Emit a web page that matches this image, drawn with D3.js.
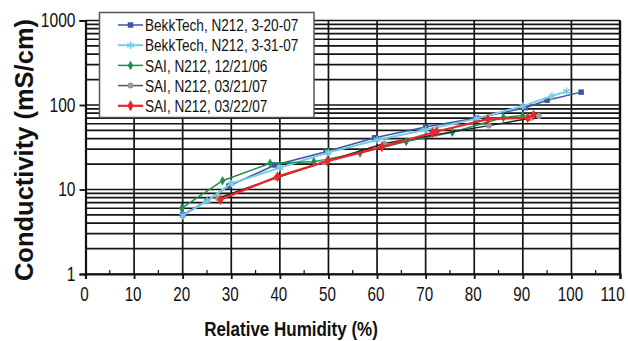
<!DOCTYPE html>
<html>
<head>
<meta charset="utf-8">
<script src="https://cdn.jsdelivr.net/npm/d3@7"></script>
<style>
  body { margin: 0; background: #fff; }
  svg { display: block; }
  .tick-label { font-family: "Liberation Sans", Arial, sans-serif; font-size: 20px; fill: #111; }
  .legend-label { font-family: "Liberation Sans", Arial, sans-serif; font-size: 17px; fill: #111; }
  .axis-title { font-family: "Liberation Sans", Arial, sans-serif; font-weight: bold; fill: #111; }
</style>
</head>
<body>
<svg id="chart" width="628" height="341"></svg>
<script>
// Series: [relative humidity %, conductivity mS/cm]
const bekk0320 = [[20, 5.0], [25, 7.4], [29.5, 11], [39, 19.5], [49.5, 28], [59.5, 41], [70, 55], [80.5, 70], [90.5, 93], [95, 114], [102, 142]];
const bekk0331 = [[20, 4.9], [25, 7.3], [30, 11.8], [40, 18.1], [50, 27.5], [60, 38.5], [70, 51], [80.5, 69], [90, 97], [96, 128], [99, 145]];
const sai1221 = [[19.8, 6.0], [28.2, 12.7], [38, 20.4], [47, 21.3], [56.5, 27], [66, 37], [75.5, 47.5], [86, 71], [90, 75]];
const sai0321 = [[27.3, 7.9], [39.3, 13.8], [49, 21], [61.5, 35], [83, 57], [91.5, 69.5], [93.3, 74]];
const sai0322 = [[27.8, 7.6], [39.5, 14.2], [49.8, 21.7], [61, 32], [71.4, 47], [72.3, 48.5], [82.8, 68], [91, 70.5], [92.2, 76]];

const seriesNames = ["BekkTech, N212, 3-20-07", "BekkTech, N212, 3-31-07", "SAI, N212, 12/21/06", "SAI, N212, 03/21/07", "SAI, N212, 03/22/07"];
const seriesData = [bekk0320, bekk0331, sai1221, sai0321, sai0322];

const xTicks = [0, 10, 20, 30, 40, 50, 60, 70, 80, 90, 100, 110];
const yTickLabels = [1, 10, 100, 1000];

// look of each series, same order as seriesNames
const styles = [
  {line: "#3a56a5", fill: "#3a56a5", width: 1.5, symbol: d3.symbolSquare, size: 30},
  {line: "#78cde3", fill: "#78cde3", width: 2, symbol: d3.symbolAsterisk, size: 40},
  {line: "#1f8f4f", fill: "#1f8f4f", width: 1.5, symbol: d3.symbolDiamond, size: 26},
  {line: "#222222", fill: "#9a9a9a", width: 1.5, symbol: d3.symbolCircle, size: 28},
  {line: "#e8262b", fill: "#e8262b", width: 2.2, symbol: d3.symbolDiamond, size: 34},
];

const plot = {left: 85.5, right: 620, top: 20.5, bottom: 274};

const x = d3.scaleLinear().domain([0, 110]).range([plot.left, plot.right]);
const y = d3.scaleLog().domain([1, 1000]).range([plot.bottom, plot.top]);

const svg = d3.select("#chart");

// the original uses a condensed face; squeeze the text horizontally
// (scale about the origin, so the x position is divided back out)
function narrow(selection, ratio) {
  selection.each(function() {
    const x0 = +this.getAttribute("x") || 0;
    this.setAttribute("x", x0 / ratio);
    this.setAttribute("transform", `scale(${ratio},1)`);
  });
}

// grid
const grid = svg.append("g").attr("stroke", "#141414").attr("stroke-width", 1.7);
grid.selectAll("line.h")
  .data(y.ticks())
  .join("line")
  .attr("class", "h")
  .attr("x1", plot.left).attr("x2", plot.right)
  .attr("y1", d => y(d)).attr("y2", d => y(d));
grid.selectAll("line.v")
  .data(xTicks.slice(1))
  .join("line")
  .attr("class", "v")
  .attr("x1", d => x(d)).attr("x2", d => x(d))
  .attr("y1", plot.top).attr("y2", plot.bottom);

// x axis
const xAxis = d3.axisBottom(x).tickValues(xTicks).tickSize(5).tickPadding(8);
const gx = svg.append("g")
  .attr("transform", `translate(0,${plot.bottom})`)
  .call(xAxis);
gx.select(".domain").attr("stroke", "#111").attr("stroke-width", 2.2);
gx.selectAll(".tick line").attr("stroke", "#111").attr("stroke-width", 1.8);
// labels sit a bit left of their ticks; the last one is pulled in to stay inside
gx.selectAll(".tick text")
  .attr("class", "tick-label").attr("font-family", null).attr("font-size", null)
  .attr("x", d => d === 110 ? -8 : -1.5)
  .call(narrow, 0.76);
// small minor ticks pointing up
svg.append("g").selectAll("line")
  .data(d3.range(5, 110, 10))
  .join("line")
  .attr("x1", d => x(d)).attr("x2", d => x(d))
  .attr("y1", plot.bottom - 4).attr("y2", plot.bottom)
  .attr("stroke", "#111").attr("stroke-width", 1.2);

// y axis
const yAxis = d3.axisLeft(y).tickValues(yTickLabels).tickFormat(d3.format("d")).tickSize(6).tickPadding(4);
const gy = svg.append("g")
  .attr("transform", `translate(${plot.left},0)`)
  .call(yAxis);
gy.select(".domain").attr("stroke", "#111").attr("stroke-width", 2.2);
gy.selectAll(".tick line").attr("stroke", "#111").attr("stroke-width", 1.8);
gy.selectAll(".tick text").attr("class", "tick-label").attr("font-family", null).attr("font-size", null)
  .call(narrow, 0.78);

// right frame line
svg.append("line")
  .attr("x1", plot.right).attr("x2", plot.right)
  .attr("y1", plot.top).attr("y2", plot.bottom)
  .attr("stroke", "#111").attr("stroke-width", 2.4);

// series
const line = d3.line().x(d => x(d[0])).y(d => y(d[1]));
const dataLayer = svg.append("g");
seriesData.forEach((data, i) => {
  const s = styles[i];
  dataLayer.append("path")
    .datum(data)
    .attr("fill", "none")
    .attr("stroke", s.line)
    .attr("stroke-width", s.width)
    .attr("d", line);
  dataLayer.append("g").selectAll("path")
    .data(data)
    .join("path")
    .attr("transform", d => `translate(${x(d[0])},${y(d[1])})`)
    .attr("d", d3.symbol(s.symbol, s.size))
    .attr("fill", s.fill)
    .attr("stroke", s.symbol === d3.symbolAsterisk ? s.fill : "none")
    .attr("stroke-width", 1.5);
});

// legend
const legend = svg.append("g").attr("transform", "translate(99.5,12.5)");
legend.append("rect")
  .attr("width", 214.5).attr("height", 105)
  .attr("fill", "#fff")
  .attr("stroke", "#555").attr("stroke-width", 1.5);
const rows = legend.selectAll("g.row")
  .data(seriesNames)
  .join("g")
  .attr("class", "row")
  .attr("transform", (d, i) => `translate(0,${12.5 + i * 20.2})`);
rows.append("line")
  .attr("x1", 18.5).attr("x2", 43.5)
  .attr("stroke", (d, i) => styles[i].line === "#222222" ? "#555" : styles[i].line)
  .attr("stroke-width", (d, i) => styles[i].width);
rows.append("path")
  .attr("transform", "translate(31,0)")
  .attr("d", (d, i) => d3.symbol(styles[i].symbol, styles[i].size)())
  .attr("fill", (d, i) => styles[i].fill)
  .attr("stroke", (d, i) => styles[i].symbol === d3.symbolAsterisk ? styles[i].fill : "none")
  .attr("stroke-width", 1.5);
rows.append("text")
  .attr("class", "legend-label")
  .attr("x", 45.5)
  .attr("dy", "0.36em")
  .text(d => d)
  .call(narrow, 0.8);

// axis titles
svg.append("text")
  .attr("class", "axis-title")
  .attr("x", 291).attr("y", 336)
  .attr("text-anchor", "middle")
  .attr("font-size", 20)
  .text("Relative Humidity (%)")
  .call(narrow, 0.85);
svg.append("text")
  .attr("class", "axis-title")
  .attr("transform", "translate(33,150) rotate(-90)")
  .attr("text-anchor", "middle")
  .attr("font-size", 25.5)
  .text("Conductivity (mS/cm)");
</script>
</body>
</html>
